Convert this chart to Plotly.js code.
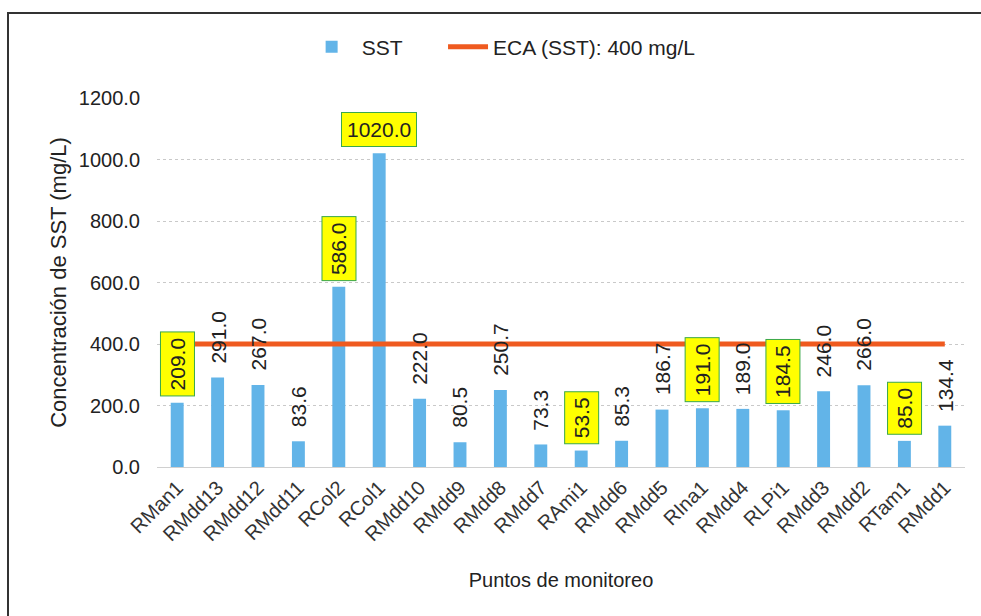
<!DOCTYPE html>
<html>
<head>
<meta charset="utf-8">
<script src="https://cdn.plot.ly/plotly-3.0.1.min.js"></script>
<style>
  html, body { margin: 0; padding: 0; background: #fff; overflow: hidden; }
  #frame { position: absolute; left: 7px; top: 12px; width: 1000px; height: 640px; border-left: 2px solid #333; border-top: 2px solid #333; box-sizing: border-box; pointer-events: none; z-index: 10; }
  #chart { position: absolute; left: 0; top: 0; width: 981px; height: 616px; }
</style>
</head>
<body>
<div id="chart"></div>
<div id="frame"></div>
<script>
const categories = ["RMan1","RMdd13","RMdd12","RMdd11","RCol2","RCol1","RMdd10","RMdd9","RMdd8","RMdd7","RAmi1","RMdd6","RMdd5","RIna1","RMdd4","RLPi1","RMdd3","RMdd2","RTam1","RMdd1"];
const sstValues = [209.0, 291.0, 267.0, 83.6, 586.0, 1020.0, 222.0, 80.5, 250.7, 73.3, 53.5, 85.3, 186.7, 191.0, 189.0, 184.5, 246.0, 266.0, 85.0, 134.4];
const highlighted = [true,false,false,false,true,true,false,false,false,false,true,false,false,true,false,true,false,false,true,false];
const ecaLimit = 400;
const ecaValues = categories.map(() => ecaLimit);
const yTicks = [0, 200, 400, 600, 800, 1000, 1200];

const FONT = "Liberation Sans, Arial, sans-serif";

const traces = [
  {
    type: "bar",
    name: "SST",
    x: categories,
    y: sstValues,
    marker: { color: "#62b4e8" },
    legend: "legend",
    hoverinfo: "x+y"
  },
  {
    type: "scatter",
    mode: "lines",
    name: "ECA (SST): 400 mg/L",
    x: categories,
    y: ecaValues,
    legend: "legend2",
    line: { color: "#ef5a1f", width: 5 }
  }
];

const annotations = sstValues.map((v, i) => {
  const hl = highlighted[i];
  const horizontal = v > 1000;
  const a = {
    x: categories[i],
    y: v,
    xref: "x",
    yref: "y",
    text: v.toFixed(1),
    showarrow: false,
    textangle: horizontal ? 0 : -90,
    xanchor: "center",
    yanchor: "bottom",
    yshift: hl ? 6 : 12,
    font: { family: FONT, size: 21, color: "#222" }
  };
  if (hl) {
    a.bgcolor = "#ffff00";
    a.bordercolor = "#3aa84a";
    a.borderwidth = 1;
    a.borderpad = 5;
  }
  return a;
});

const legendFont = { family: FONT, size: 21, color: "#222" };

const layout = {
  width: 981,
  height: 616,
  margin: { l: 157, r: 16, t: 98, b: 149 },
  paper_bgcolor: "#ffffff",
  plot_bgcolor: "#ffffff",
  font: { family: FONT, size: 20, color: "#222" },
  bargap: 0.68,
  showlegend: true,
  legend: {
    orientation: "h",
    x: 0.179,
    xanchor: "left",
    y: 1.138,
    yanchor: "middle",
    font: legendFont,
    itemwidth: 50
  },
  legend2: {
    orientation: "h",
    x: 0.354,
    xanchor: "left",
    y: 1.138,
    yanchor: "middle",
    font: legendFont,
    itemwidth: 40
  },
  xaxis: {
    type: "category",
    tickangle: -45,
    tickfont: { family: FONT, size: 20, color: "#333" },
    showline: true,
    linecolor: "#d0d0d0",
    linewidth: 1,
    ticks: "",
    title: { text: "Puntos de monitoreo", font: { family: FONT, size: 20, color: "#222" }, standoff: 28 }
  },
  yaxis: {
    range: [0, 1200],
    tickvals: yTicks,
    ticktext: yTicks.map(t => t.toFixed(1)),
    tickfont: { family: FONT, size: 20, color: "#222" },
    showgrid: true,
    gridcolor: "#c9c9c9",
    griddash: "dot",
    gridwidth: 1,
    zeroline: false,
    ticks: "",
    ticklabelstandoff: 16,
    title: { text: "Concentración de SST (mg/L)", font: { family: FONT, size: 22, color: "#222" }, standoff: 6 }
  },
  annotations: annotations
};

Plotly.newPlot("chart", traces, layout, { displayModeBar: false, staticPlot: true });
</script>
</body>
</html>
